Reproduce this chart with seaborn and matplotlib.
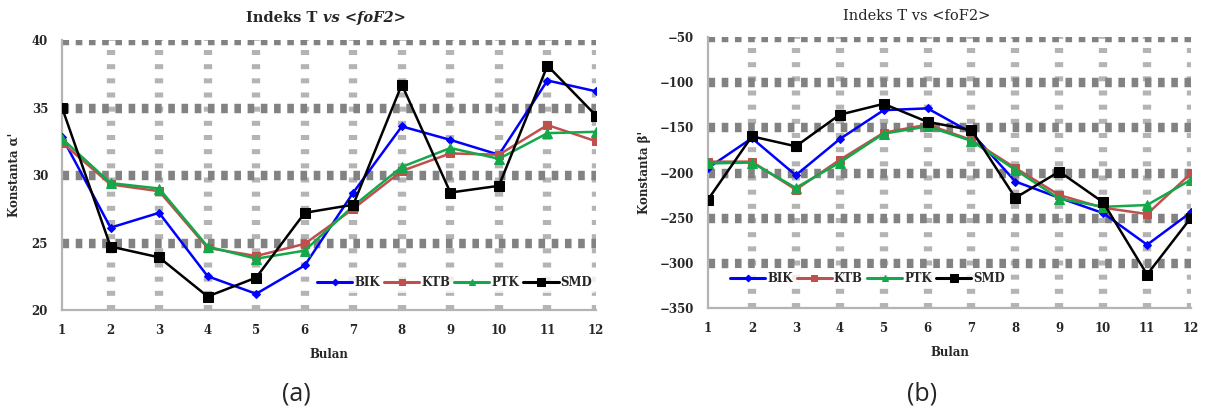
import matplotlib
matplotlib.use("Agg")
import matplotlib.pyplot as plt
import seaborn as sns
import pandas as pd

# Monthly constants for four stations
months = [1, 2, 3, 4, 5, 6, 7, 8, 9, 10, 11, 12]
stations = ["BIK", "KTB", "PTK", "SMD"]

# Panel (a): constant alpha'
alpha_bik = [32.8, 26.1, 27.2, 22.5, 21.2, 23.3, 28.7, 33.6, 32.6, 31.5, 37.0, 36.2]
alpha_ktb = [32.4, 29.3, 28.8, 24.6, 24.0, 24.9, 27.5, 30.3, 31.6, 31.5, 33.7, 32.5]
alpha_ptk = [32.7, 29.4, 29.0, 24.7, 23.8, 24.4, 27.7, 30.6, 32.0, 31.2, 33.1, 33.2]
alpha_smd = [35.0, 24.7, 23.9, 21.0, 22.4, 27.2, 27.8, 36.7, 28.7, 29.2, 38.1, 34.4]

# Panel (b): constant beta'
beta_bik = [-195, -162, -203, -163, -131, -129, -156, -210, -228, -245, -280, -244]
beta_ktb = [-188, -188, -219, -186, -156, -147, -164, -195, -225, -239, -246, -201]
beta_ptk = [-190, -189, -217, -189, -157, -149, -165, -197, -229, -238, -236, -208]
beta_smd = [-230, -160, -171, -136, -124, -144, -153, -228, -199, -233, -313, -250]

sns.set_theme(style="white")
plt.rcParams["font.family"] = ["DejaVu Serif"]
plt.rcParams["lines.scale_dashes"] = True

colors = {"BIK": "#0000FF", "KTB": "#C0504D", "PTK": "#14A84A", "SMD": "#000000"}
markers = {"BIK": "D", "KTB": "s", "PTK": "^", "SMD": "s"}
msizes = {"BIK": 4.5, "KTB": 6.0, "PTK": 6.5, "SMD": 7.5}

W, H = 1211, 415
fig = plt.figure(figsize=(W / 100, H / 100), dpi=100)


def px_axes(left, top, right, bottom):
    return fig.add_axes([left / W, 1 - bottom / H, (right - left) / W, (bottom - top) / H])


def style_axes(ax, ylim, ystep):
    ax.set_xlim(1, 12)
    ax.set_ylim(*ylim)
    ax.set_xticks(months)
    yt = list(range(ylim[0], ylim[1] + 1, ystep))
    ax.set_yticks(yt)
    for sp in ["top", "right"]:
        ax.spines[sp].set_visible(False)
    for sp in ["left", "bottom"]:
        ax.spines[sp].set_color("#b4b4b4")
        ax.spines[sp].set_linewidth(1.6)
    ax.tick_params(axis="both", which="both", direction="out", length=4, width=1.2,
                   color="#b4b4b4", labelsize=8.5, pad=6)
    for lab in ax.get_xticklabels() + ax.get_yticklabels():
        lab.set_fontweight("bold")
    # heavy dotted grid
    for y in yt[1:]:
        ax.axhline(y, color="#828282", lw=6.8, ls=(0, (0.7, 0.7)), zorder=0.5)
    for x in months[1:]:
        ax.axvline(x, color="#b4b4b4", lw=6.0, ls=(0, (0.6, 1.1)), zorder=0.4)


def draw_series(ax, data):
    for name, vals in zip(stations, data):
        df = pd.DataFrame({"Bulan": months, "Nilai": vals})
        sns.lineplot(data=df, x="Bulan", y="Nilai", ax=ax, color=colors[name],
                     marker=markers[name], markersize=msizes[name],
                     markeredgecolor=colors[name], linewidth=1.8, label=name,
                     zorder=3)


def add_legend(ax, anchor):
    leg = ax.legend(loc="center", bbox_to_anchor=anchor, ncol=4, frameon=True,
                    prop={"size": 8.5, "weight": "bold"}, handlelength=3.0,
                    handletextpad=0.15, columnspacing=0.35, borderpad=0.3,
                    markerscale=0.75)
    leg.get_frame().set_facecolor("white")
    leg.get_frame().set_edgecolor("none")
    leg.set_zorder(4)
    for ln in leg.get_lines():
        ln.set_linewidth(2.2)


# ---- panel (a)
axa = px_axes(62, 40, 596, 310)
draw_series(axa, [alpha_bik, alpha_ktb, alpha_ptk, alpha_smd])
style_axes(axa, (20, 40), 5)
axa.set_xlabel("Bulan", fontsize=8.5, fontweight="bold", labelpad=8)
axa.set_ylabel("Konstanta α'", fontsize=8.5, fontweight="bold", labelpad=8)
add_legend(axa, (0.735, 0.1))
fig.text(323 / W, 1 - 18 / H, "Indeks T ", ha="right", va="center",
         fontsize=10.5, fontweight="bold", family="DejaVu Serif")
fig.text(323 / W, 1 - 18 / H, "vs <foF2>", ha="left", va="center",
         fontsize=10.5, fontweight="bold", style="italic", family="DejaVu Serif")

# ---- panel (b)
axb = px_axes(708, 37, 1191, 308)
draw_series(axb, [beta_bik, beta_ktb, beta_ptk, beta_smd])
style_axes(axb, (-350, -50), 50)
axb.set_xlabel("Bulan", fontsize=8.5, fontweight="bold", labelpad=8)
axb.set_ylabel("Konstanta β'", fontsize=8.5, fontweight="bold", labelpad=6)
add_legend(axb, (0.33, 0.11))
fig.text(917 / W, 1 - 16 / H, "Indeks T vs <foF2>", ha="center", va="center",
         fontsize=10.5, family="DejaVu Serif")

# captions
fig.text(296 / W, 1 - 394 / H, "(a)", ha="center", va="center", fontsize=18,
         family="Open Sans")
fig.text(922 / W, 1 - 394 / H, "(b)", ha="center", va="center", fontsize=18,
         family="Open Sans")

fig.savefig("out.png", dpi=100, facecolor="white")
